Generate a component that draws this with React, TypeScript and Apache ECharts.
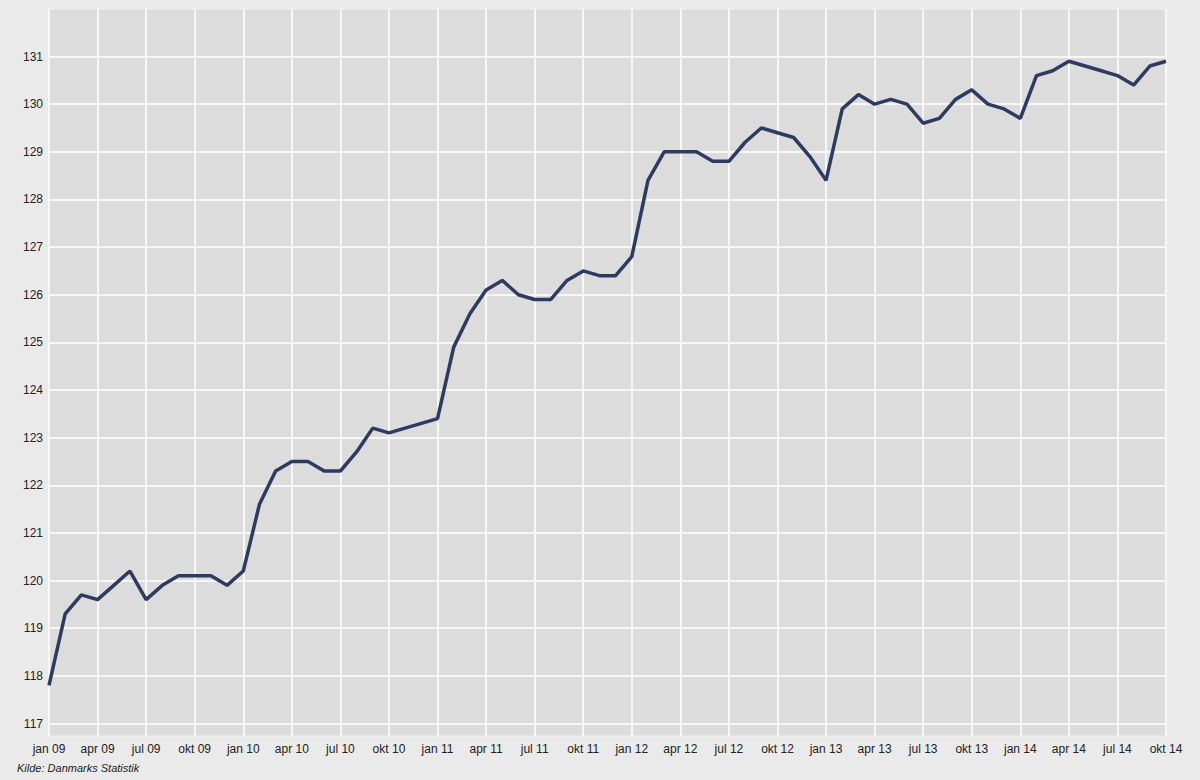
import React, { useEffect, useRef } from "react";
import * as echarts from "echarts";

const monthNames = ["jan", "feb", "mar", "apr", "maj", "jun", "jul", "aug", "sep", "okt", "nov", "dec"];
const years = ["09", "10", "11", "12", "13", "14"];
const months: string[] = [];
years.forEach((y) => monthNames.forEach((m) => months.push(`${m} ${y}`)));
const categories = months.slice(0, 70); // jan 09 .. okt 14

const values = [
  117.8, 119.3, 119.7, 119.6, 119.9, 120.2, 119.6, 119.9, 120.1, 120.1, 120.1, 119.9,
  120.2, 121.6, 122.3, 122.5, 122.5, 122.3, 122.3, 122.7, 123.2, 123.1, 123.2, 123.3,
  123.4, 124.9, 125.6, 126.1, 126.3, 126.0, 125.9, 125.9, 126.3, 126.5, 126.4, 126.4,
  126.8, 128.4, 129.0, 129.0, 129.0, 128.8, 128.8, 129.2, 129.5, 129.4, 129.3, 128.9,
  128.4, 129.9, 130.2, 130.0, 130.1, 130.0, 129.6, 129.7, 130.1, 130.3, 130.0, 129.9,
  129.7, 130.6, 130.7, 130.9, 130.8, 130.7, 130.6, 130.4, 130.8, 130.9,
];

const sourceText = "Kilde: Danmarks Statistik";

export default function App() {
  const ref = useRef<HTMLDivElement>(null);
  useEffect(() => {
    if (!ref.current) return;
    const chart = echarts.init(ref.current, null, { renderer: "svg" });
    const font = "'Liberation Sans', Arial, sans-serif";
    chart.setOption({
      animation: false,
      backgroundColor: "#eaeaea",
      grid: [
        {
          left: 49, right: 34, top: 9, bottom: 44,
          show: true, backgroundColor: "#dcdcdc", borderColor: "#f0f0f0", borderWidth: 1,
        },
        { left: 49, right: 34, top: 56.5, bottom: 56.5 },
      ],
      xAxis: [
        {
          type: "category", gridIndex: 0, data: categories, boundaryGap: false,
          axisLine: { show: false }, axisTick: { show: false },
          axisLabel: { interval: 2, color: "#222", fontSize: 12, fontFamily: font, margin: 7 },
          splitLine: { show: true, interval: 2, lineStyle: { color: "#f7f7f7", width: 2 } },
        },
        {
          type: "category", gridIndex: 1, data: categories, boundaryGap: false, show: false,
        },
      ],
      yAxis: [
        { type: "value", gridIndex: 0, min: 0, max: 1, show: false, splitLine: { show: false } },
        {
          type: "value", gridIndex: 1, min: 117, max: 131, interval: 1,
          axisLine: { show: false }, axisTick: { show: false },
          axisLabel: { color: "#222", fontSize: 12, fontFamily: font, margin: 6 },
          splitLine: { show: true, lineStyle: { color: "#f7f7f7", width: 2 } },
        },
      ],
      series: [
        {
          type: "line", xAxisIndex: 1, yAxisIndex: 1, data: values,
          symbol: "none", lineStyle: { color: "#2d3b60", width: 3.5 },
        },
      ],
      graphic: [
        {
          type: "text", left: 17, top: 762,
          style: { text: sourceText, font: `italic 11px ${font}`, fill: "#222" },
        },
      ],
    });
    return () => chart.dispose();
  }, []);
  return (
    <div
      ref={ref}
      style={{ position: "fixed", left: 0, top: 0, width: 1200, height: 780 }}
    />
  );
}
